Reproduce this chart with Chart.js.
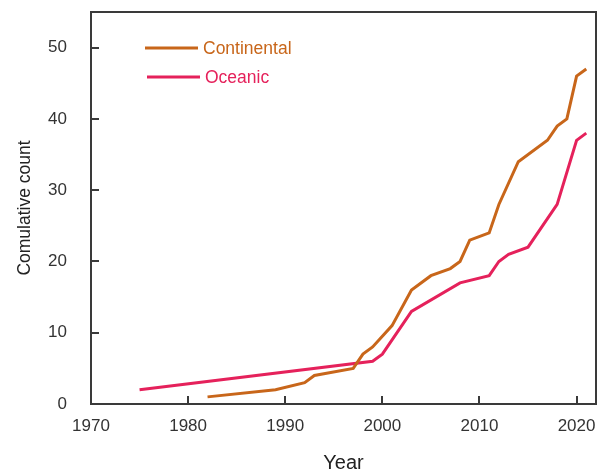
<!DOCTYPE html>
<html>
<head>
<meta charset="utf-8">
<script src="https://cdn.jsdelivr.net/npm/chart.js@4.4.1/dist/chart.umd.min.js"></script>
<style>
    html, body { margin: 0; padding: 0; background: #fff; overflow: hidden; }
    canvas { display: block; }
</style>
</head>
<body>
<canvas id="cumChart" width="598" height="471"></canvas>
<script>
// data
const continentalYears = [1982, 1989, 1992, 1993, 1997, 1998, 1999, 2001, 2003, 2005, 2007, 2008, 2009, 2011, 2012, 2014, 2017, 2018, 2019, 2020, 2021];
const continentalCounts = [1, 2, 3, 4, 5, 7, 8, 11, 16, 18, 19, 20, 23, 24, 28, 34, 37, 39, 40, 46, 47];
const oceanicYears = [1975, 1999, 2000, 2003, 2008, 2011, 2012, 2013, 2015, 2018, 2020, 2021];
const oceanicCounts = [2, 6, 7, 13, 17, 18, 20, 21, 22, 28, 37, 38];
const xTicks = [1970, 1980, 1990, 2000, 2010, 2020];
const yTicks = [0, 10, 20, 30, 40, 50];

const toPoints = (xs, ys) => xs.map((x, i) => ({ x: x, y: ys[i] }));

const axisColor = "#3a3a3a";
const font = "'Liberation Sans', Arial, sans-serif";

// frame on top/right, inward tick marks, legend inside the plot
const framePlugin = {
    id: "frame",
    afterDraw(chart) {
        const { ctx, chartArea: a, scales } = chart;
        ctx.save();
        ctx.strokeStyle = axisColor;
        ctx.lineWidth = 2;
        ctx.strokeRect(a.left, a.top, a.right - a.left, a.bottom - a.top);

        ctx.beginPath();
        xTicks.forEach(v => {
            const px = Math.round(scales.x.getPixelForValue(v));
            ctx.moveTo(px, a.bottom);
            ctx.lineTo(px, a.bottom - 8);
        });
        yTicks.forEach(v => {
            const py = Math.round(scales.y.getPixelForValue(v));
            ctx.moveTo(a.left, py);
            ctx.lineTo(a.left + 8, py);
        });
        ctx.stroke();

        // legend
        ctx.font = "17.5px " + font;
        ctx.textBaseline = "middle";
        chart.data.datasets.forEach((ds, i) => {
            const y = a.top + 36 + i * 29;
            const x0 = a.left + 54 + i * 2;
            ctx.strokeStyle = ds.borderColor;
            ctx.lineWidth = 3;
            ctx.beginPath();
            ctx.moveTo(x0, y);
            ctx.lineTo(x0 + 53, y);
            ctx.stroke();
            ctx.fillStyle = ds.borderColor;
            ctx.fillText(ds.label, x0 + 58, y + 1);
        });
        ctx.restore();
    }
};

new Chart(document.getElementById("cumChart").getContext("2d"), {
    type: "line",
    data: {
        datasets: [{
            label: "Continental",
            data: toPoints(continentalYears, continentalCounts),
            borderColor: "#c8661a",
            borderWidth: 3,
            pointRadius: 0,
            tension: 0
        }, {
            label: "Oceanic",
            data: toPoints(oceanicYears, oceanicCounts),
            borderColor: "#e5215b",
            borderWidth: 3,
            pointRadius: 0,
            tension: 0
        }]
    },
    options: {
        responsive: false,
        animation: false,
        layout: { padding: { top: 12, right: 2, left: 15, bottom: 0 } },
        plugins: {
            legend: { display: false },
            tooltip: { enabled: false }
        },
        scales: {
            x: {
                type: "linear",
                min: 1970,
                max: 2022,
                afterBuildTicks: axis => { axis.ticks = xTicks.map(v => ({ value: v })); },
                afterFit: axis => { axis.height = 67; axis.paddingLeft = 0; axis.paddingRight = 0; },
                grid: { display: false, drawTicks: false },
                border: { display: true, color: axisColor, width: 2 },
                ticks: {
                    color: "#333",
                    padding: 12,
                    maxRotation: 0,
                    font: { family: font, size: 17 },
                    callback: v => String(v)
                },
                title: {
                    display: true,
                    text: "Year",
                    color: "#222",
                    padding: { top: 8, bottom: -4 },
                    font: { family: font, size: 20 }
                }
            },
            y: {
                min: 0,
                max: 55,
                afterBuildTicks: axis => { axis.ticks = yTicks.map(v => ({ value: v })); },
                afterFit: axis => { axis.width = 76; axis.paddingTop = 0; axis.paddingBottom = 0; },
                grid: { display: false, drawTicks: false },
                border: { display: true, color: axisColor, width: 2 },
                ticks: {
                    color: "#333",
                    padding: 24,
                    font: { family: font, size: 17 }
                },
                title: {
                    display: true,
                    text: "Comulative count",
                    color: "#222",
                    padding: { top: 0, bottom: 14 },
                    font: { family: font, size: 17.5 }
                }
            }
        }
    },
    plugins: [framePlugin]
});
</script>
</body>
</html>
